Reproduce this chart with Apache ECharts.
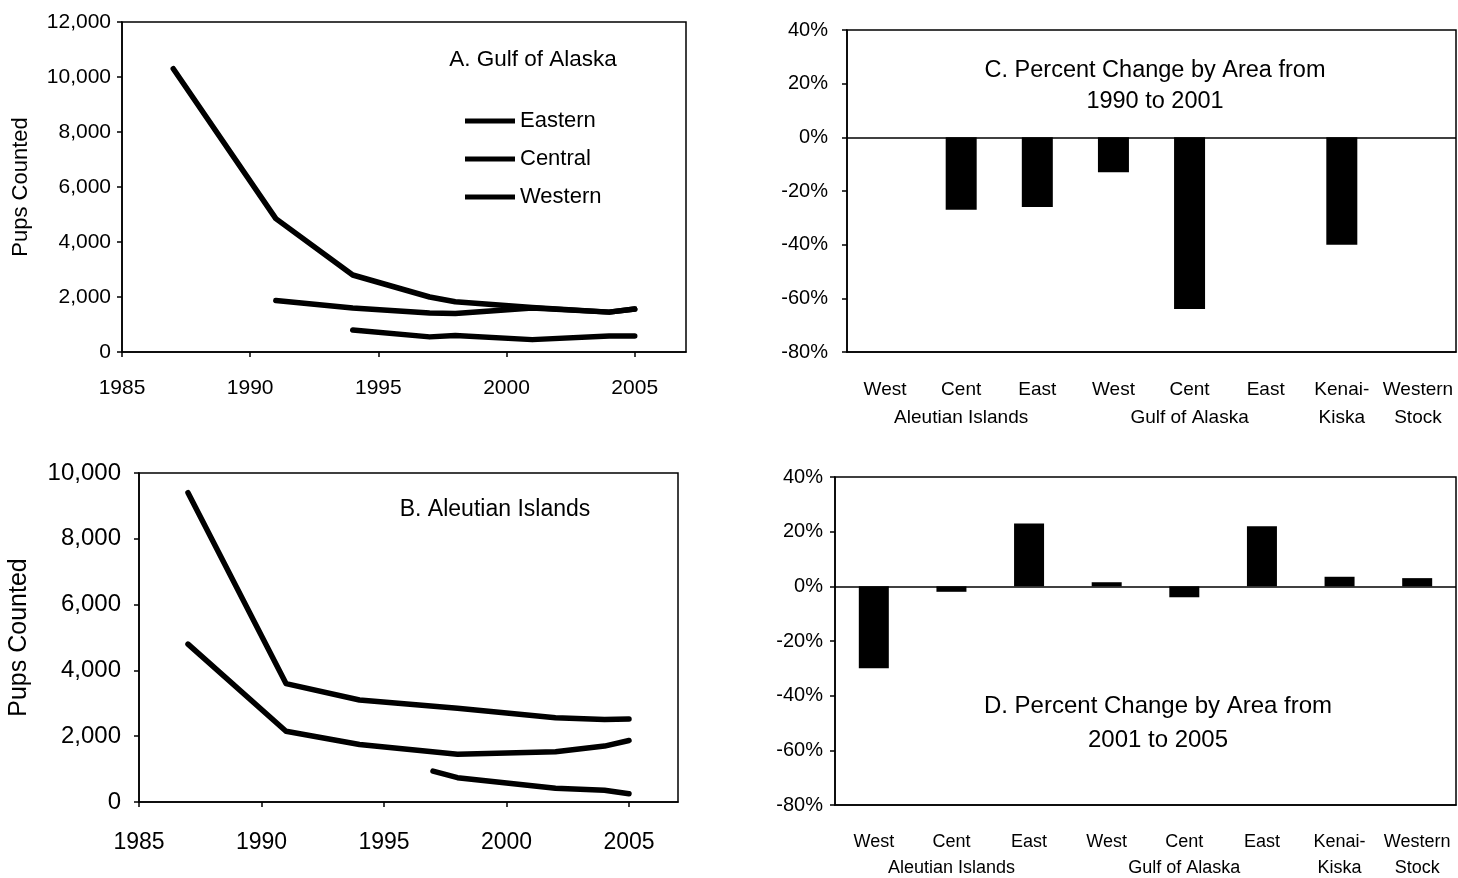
<!DOCTYPE html>
<html>
<head>
<meta charset="utf-8">
<script src="https://cdn.jsdelivr.net/npm/echarts@6/dist/echarts.min.js"></script>
<style>
  html, body { margin: 0; padding: 0; background: #fff; }
  #main { width: 1458px; height: 878px; }
</style>
</head>
<body>
<div id="main"></div>
<script>
// A. Gulf of Alaska pup counts [year, pups]
var gulfEastern = [[1991, 1870], [1994, 1600], [1997, 1420], [1998, 1400], [2001, 1600], [2004, 1450], [2005, 1560]];
var gulfCentral = [[1987, 10300], [1991, 4850], [1994, 2800], [1997, 2000], [1998, 1830], [2001, 1620], [2004, 1450], [2005, 1560]];
var gulfWestern = [[1994, 800], [1997, 550], [1998, 600], [2001, 450], [2004, 580], [2005, 580]];

// B. Aleutian Islands pup counts [year, pups]
var aleutUpper = [[1987, 9400], [1991, 3600], [1994, 3100], [1998, 2850], [2002, 2560], [2004, 2510], [2005, 2520]];
var aleutMiddle = [[1987, 4800], [1991, 2150], [1994, 1750], [1998, 1450], [2002, 1530], [2004, 1700], [2005, 1870]];
var aleutLower = [[1997, 940], [1998, 740], [2002, 420], [2004, 360], [2005, 250]];

// C / D. percent change by area
var areaLabels = ['West', 'Cent\nAleutian Islands', 'East', 'West', 'Cent\nGulf of Alaska', 'East', 'Kenai-\nKiska', 'Western\nStock'];
var change1990to2001 = [null, -27, -26, -13, -64, null, -40, null];
var change2001to2005 = [-30, -2, 23, 1.5, -4, 22, 3.5, 3];

var FONT = '"Liberation Sans", Arial, sans-serif';

var chart = echarts.init(document.getElementById('main'));

function lineSeries(name, data, idx) {
    return {
        name: name,
        type: 'line',
        xAxisIndex: idx,
        yAxisIndex: idx,
        data: data,
        showSymbol: false,
        symbol: 'none',
        lineStyle: {color: '#000', width: 5.5, cap: 'round', join: 'round'},
        itemStyle: {color: '#000'}
    };
}

function barSeries(data, idx, width) {
    return {
        type: 'bar',
        xAxisIndex: idx,
        yAxisIndex: idx,
        data: data,
        barWidth: width,
        itemStyle: {color: '#000'},
        markLine: {
            silent: true,
            symbol: ['none', 'none'],
            label: {show: false},
            lineStyle: {color: '#000', type: 'solid', width: 1.5},
            data: [{yAxis: 0}]
        }
    };
}

function yearAxis(idx, size, margin) {
    return {
        type: 'value', gridIndex: idx, min: 1985, max: 2007, interval: 5,
        axisLine: {onZero: false, lineStyle: {color: '#000', width: 1.5}},
        axisTick: {show: true, length: 5, lineStyle: {color: '#000', width: 1.5}},
        axisLabel: {
            color: '#000', fontFamily: FONT, fontSize: size, margin: margin, showMaxLabel: false,
            formatter: function (v) { return String(v); }
        },
        splitLine: {show: false}
    };
}

function pupsAxis(idx, max, size, margin, nameSize, nameGap) {
    return {
        type: 'value', gridIndex: idx, min: 0, max: max, interval: 2000,
        name: 'Pups Counted', nameLocation: 'middle', nameRotate: 90, nameGap: nameGap,
        nameTextStyle: {color: '#000', fontFamily: FONT, fontSize: nameSize},
        axisLine: {show: true, lineStyle: {color: '#000', width: 1.5}},
        axisTick: {show: true, length: 5, lineStyle: {color: '#000', width: 1.5}},
        axisLabel: {
            color: '#000', fontFamily: FONT, fontSize: size, margin: margin,
            formatter: function (v) { return v.toLocaleString('en-US'); }
        },
        splitLine: {show: false}
    };
}

function areaAxis(idx, size, lineHeight, margin) {
    return {
        type: 'category', gridIndex: idx, data: areaLabels,
        axisLine: {onZero: false, lineStyle: {color: '#000', width: 1.5}},
        axisTick: {show: false},
        axisLabel: {
            interval: 0, color: '#000', fontFamily: FONT, fontSize: size,
            lineHeight: lineHeight, margin: margin
        }
    };
}

function percentAxis(idx, margin) {
    return {
        type: 'value', gridIndex: idx, min: -80, max: 40, interval: 20,
        axisLine: {show: true, lineStyle: {color: '#000', width: 1.5}},
        axisTick: {show: true, length: 5, lineStyle: {color: '#000', width: 1.5}},
        axisLabel: {color: '#000', fontFamily: FONT, fontSize: 20, margin: margin, formatter: '{value}%'},
        splitLine: {show: false}
    };
}

var gridBox = {show: true, borderColor: '#000', borderWidth: 1.5, backgroundColor: 'transparent', outerBoundsMode: 'none'};

var option = {
    animation: false,
    backgroundColor: '#fff',
    textStyle: {fontFamily: FONT, color: '#000'},
    grid: [
        Object.assign({left: 122, top: 22, width: 564, height: 330}, gridBox),
        Object.assign({left: 139, top: 473, width: 539, height: 329}, gridBox),
        Object.assign({left: 847, top: 30, width: 609, height: 322}, gridBox),
        Object.assign({left: 835, top: 477, width: 621, height: 328}, gridBox)
    ],
    legend: {
        data: ['Eastern', 'Central', 'Western'],
        orient: 'vertical',
        left: 465,
        top: 109,
        padding: 0,
        icon: 'rect',
        itemWidth: 50,
        itemHeight: 5,
        itemGap: 14,
        textStyle: {color: '#000', fontFamily: FONT, fontSize: 22, lineHeight: 24}
    },
    graphic: [
        {type: 'text', x: 533, y: 60, style: {text: 'A. Gulf of Alaska', fill: '#000', font: '22.5px ' + FONT, align: 'center', verticalAlign: 'middle'}},
        {type: 'text', x: 495, y: 510, style: {text: 'B. Aleutian Islands', fill: '#000', font: '23px ' + FONT, align: 'center', verticalAlign: 'middle'}},
        {type: 'text', x: 1155, y: 86, style: {text: 'C. Percent Change by Area from\n1990 to 2001', fill: '#000', font: '23.5px ' + FONT, lineHeight: 31, align: 'center', verticalAlign: 'middle'}},
        {type: 'text', x: 1158, y: 723, style: {text: 'D. Percent Change by Area from\n2001 to 2005', fill: '#000', font: '24px ' + FONT, lineHeight: 34, align: 'center', verticalAlign: 'middle'}}
    ],
    xAxis: [
        yearAxis(0, 21, 26),
        yearAxis(1, 23, 29),
        areaAxis(2, 19, 28, 24),
        areaAxis(3, 18, 26, 24)
    ],
    yAxis: [
        pupsAxis(0, 12000, 21, 11, 22, 90),
        pupsAxis(1, 10000, 24, 18, 25, 107),
        percentAxis(2, 19),
        percentAxis(3, 12)
    ],
    series: [
        lineSeries('Eastern', gulfEastern, 0),
        lineSeries('Central', gulfCentral, 0),
        lineSeries('Western', gulfWestern, 0),
        lineSeries('Aleutian upper', aleutUpper, 1),
        lineSeries('Aleutian middle', aleutMiddle, 1),
        lineSeries('Aleutian lower', aleutLower, 1),
        barSeries(change1990to2001, 2, 31),
        barSeries(change2001to2005, 3, 30)
    ]
};

chart.setOption(option);
window.addEventListener('resize', function () {
    chart.resize();
});
</script>
</body>
</html>
